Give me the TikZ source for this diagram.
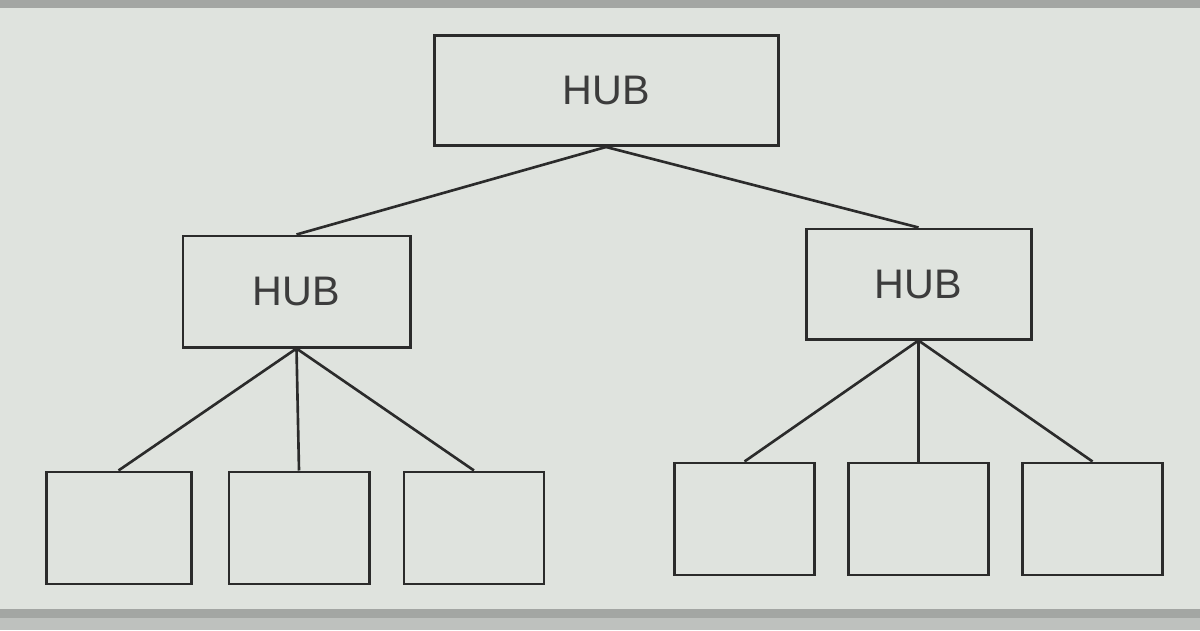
\documentclass[tikz,border=0pt]{standalone}
\usepackage{fontspec}
\setmainfont{Liberation Sans}
\usepackage{tikz}
\usetikzlibrary{positioning}

\definecolor{paper}{HTML}{DFE3DE}
\definecolor{edgegray}{HTML}{A3A6A3}
\definecolor{ink}{HTML}{2B2B2B}

\begin{document}
\begin{tikzpicture}[hub/.style={draw=ink,line width=1.7pt,minimum width=4.5cm,minimum height=2.2cm,
      text=ink!92,font=\fontsize{23.5}{28}\selectfont},
    leaf/.style={draw=ink,line width=1.7pt,minimum width=2.8cm,minimum height=2.24cm},
    link/.style={draw=ink,line width=1.5pt}]

\useasboundingbox (0,0) rectangle (24,12.6);
\fill[paper] (0,0) rectangle (24,12.6);
\fill[edgegray] (0,12.44) rectangle (24,12.6);
\fill[edgegray!70] (0,0) rectangle (24,0.24);
\fill[edgegray] (0,0.24) rectangle (24,0.42);


\node[hub,minimum width=6.88cm](top) at (12.12,10.79) {HUB};
\node[hub,minimum width=4.54cm,minimum height=2.22cm](lh) at (5.93,6.77) {HUB};
\node[hub](rh) at (18.37,6.92) {HUB};
\path[link] (top.south) -- (lh.north);
\path[link] (top.south) -- (rh.north);


\node[leaf,below = 2.44cm of lh,xshift=0.05cm](l2) {};
\node[leaf,minimum width=2.9cm,left = 0.7cm of l2](l1) {};
\node[leaf,right = 0.64cm of l2](l3) {};
\path[link] (lh.south) -- (l1.north);
\path[link] (lh.south) -- (l2.north);
\path[link] (lh.south) -- (l3.north);


\node[leaf,below = 2.42cm of rh](r2) {};
\node[leaf,left = 0.62cm of r2](r1) {};
\node[leaf,right = 0.62cm of r2](r3) {};
\path[link] (rh.south) -- (r1.north);
\path[link] (rh.south) -- (r2.north);
\path[link] (rh.south) -- (r3.north);

\end{tikzpicture}
\end{document}
